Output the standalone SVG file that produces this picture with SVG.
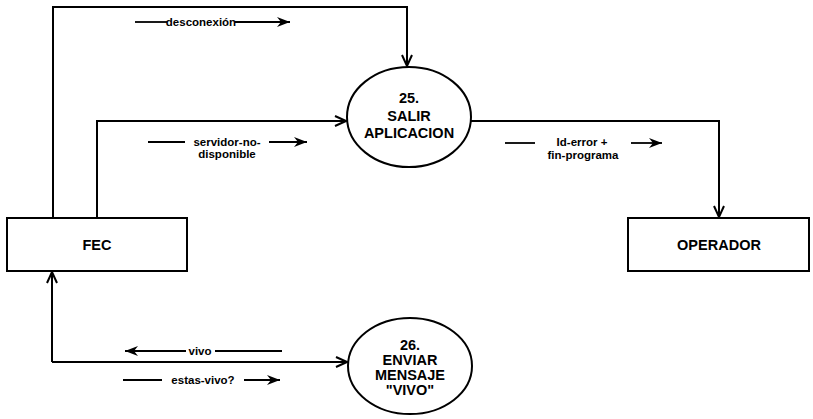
<svg xmlns="http://www.w3.org/2000/svg" width="813" height="419" viewBox="0 0 813 419">
<style>
.box{fill:#fff;stroke:#000;stroke-width:2}
.proc{fill:#fff;stroke:#000;stroke-width:2}
.t{font-family:"Liberation Sans",Arial,sans-serif;font-weight:bold;font-size:14.5px;text-anchor:middle;fill:#000}
.lbl{font-family:"Liberation Sans",Arial,sans-serif;font-weight:bold;font-size:11.5px;text-anchor:middle;fill:#000}
.ln{fill:none;stroke:#000;stroke-width:2}
.la{fill:none;stroke:#000;stroke-width:1.8}
</style>
<defs>
<marker id="open" markerUnits="userSpaceOnUse" markerWidth="14" markerHeight="14" refX="12" refY="6" orient="auto">
<path d="M1,1 L12,6 L1,11" fill="none" stroke="#000" stroke-width="2"/>
</marker>
<marker id="barb" markerUnits="userSpaceOnUse" markerWidth="14" markerHeight="10" refX="13" refY="5" orient="auto">
<path d="M0,0 L13,5 L0,10 L4,5 z" fill="#000"/>
</marker>
</defs>
<g id="connectors">
<path class="ln" d="M53,218 V7 H407 V66" marker-end="url(#open)"/>
<path class="ln" d="M97,218 V121 H346" marker-end="url(#open)"/>
<path class="ln" d="M470,121 H719 V217" marker-end="url(#open)"/>
<path class="ln" d="M52,362 H347" marker-end="url(#open)"/>
<path class="ln" d="M52,362 V272" marker-end="url(#open)"/>
<g id="flow-desconexion">
<path class="la" d="M135,22 H167"/>
<path class="la" d="M235,22 H290" marker-end="url(#barb)"/>
<text class="lbl" x="201" y="26">desconexión</text>
</g>
<g id="flow-servidor">
<path class="la" d="M148,142 H185"/>
<path class="la" d="M269,142 H307" marker-end="url(#barb)"/>
<text class="lbl" x="227" y="146">servidor-no-</text>
<text class="lbl" x="227" y="158">disponible</text>
</g>
<g id="flow-iderror">
<path class="la" d="M505,143 H535"/>
<path class="la" d="M631,143 H662" marker-end="url(#barb)"/>
<text class="lbl" x="582" y="146">Id-error +</text>
<text class="lbl" x="583" y="159">fin-programa</text>
</g>
<g id="flow-vivo">
<path class="la" d="M282,351 H215"/>
<path class="la" d="M186,351 H125" marker-end="url(#barb)"/>
<text class="lbl" x="200" y="355">vivo</text>
</g>
<g id="flow-estasvivo">
<path class="la" d="M123,380 H162"/>
<path class="la" d="M244,380 H280" marker-end="url(#barb)"/>
<text class="lbl" x="203" y="384">estas-vivo?</text>
</g>
</g>
<g id="fec">
<rect class="box" x="7" y="218" width="180" height="53"/>
<text class="t" x="97" y="250">FEC</text>
</g>
<g id="operador">
<rect class="box" x="628" y="218" width="181" height="53"/>
<text class="t" x="719" y="250">OPERADOR</text>
</g>
<g id="p25">
<ellipse class="proc" cx="409" cy="117" rx="62" ry="50"/>
<text class="t" x="409" y="103">25.</text>
<text class="t" x="409" y="121">SALIR</text>
<text class="t" x="409" y="138">APLICACION</text>
</g>
<g id="p26">
<ellipse class="proc" cx="410" cy="366" rx="62" ry="48"/>
<text class="t" x="410" y="350">26.</text>
<text class="t" x="410" y="365">ENVIAR</text>
<text class="t" x="410" y="380">MENSAJE</text>
<text class="t" x="410" y="395">"VIVO"</text>
</g>
</svg>
